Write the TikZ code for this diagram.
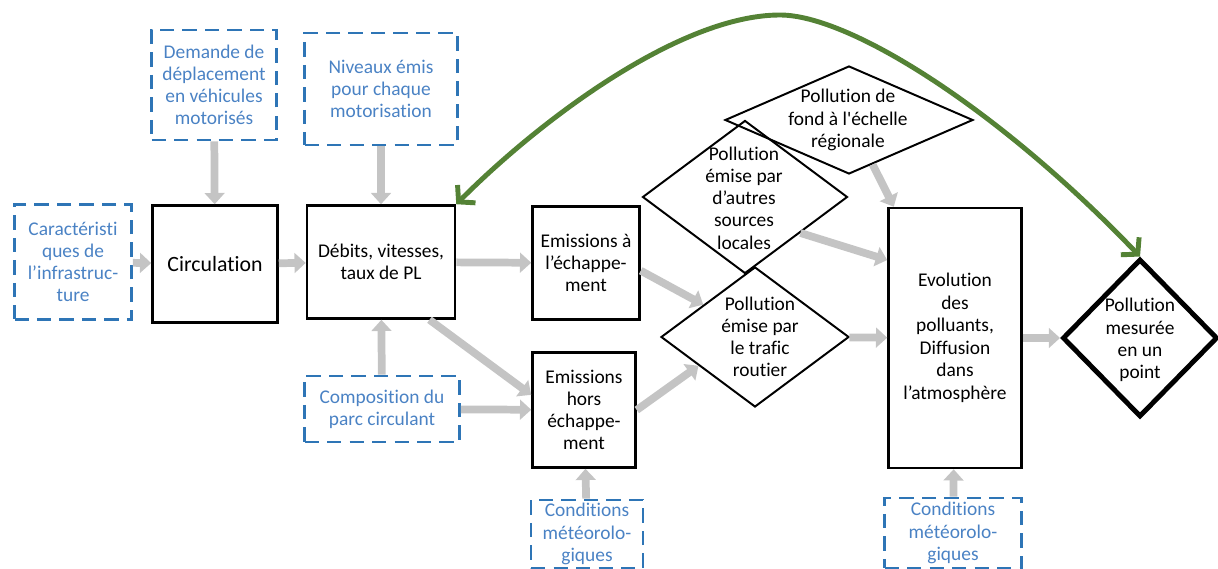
\documentclass[tikz,border=0pt]{standalone}
\usepackage{fontspec}
\setmainfont{Carlito}[Ligatures={NoCommon}]
\usepackage{tikz}
\usetikzlibrary{positioning,arrows.meta,shapes.geometric}
\definecolor{bleu}{RGB}{46,117,182}
\definecolor{bleutxt}{RGB}{74,130,196}
\definecolor{vert}{RGB}{84,130,53}
\definecolor{gris}{RGB}{196,196,196}
\newlength\pxu
\setlength\pxu{0.025cm}

\begin{document}
\begin{tikzpicture}[x=0.025cm, y=-0.025cm,
  every node/.style={align=center, font=\fontsize{13.8}{15.8}\selectfont, inner sep=1pt},
  boite/.style={draw, line width=1.8pt},
  entree/.style={draw=bleu, line width=2pt, dash pattern=on 10pt off 6pt, text=bleutxt},
  losange/.style={diamond, draw, line width=1.4pt},
  fleche/.style={gris, line width=5.5pt, -{Triangle[width=14pt,length=8pt]}}]
\useasboundingbox (0,0) rectangle (1218,569);
% entrees et boites du trafic
\node[entree, minimum width=117\pxu, minimum height=115\pxu] (car) at (73,262) {Caractéristi\\ques de\\l’infrastruc-\\ture};
\node[boite, minimum width=125\pxu, minimum height=117\pxu, font=\fontsize{15.5}{18}\selectfont] (circ) at (215,264) {Circulation};
\node[entree, minimum width=125\pxu, minimum height=110\pxu] (dem) at (214,85) {Demande de\\déplacement\\en véhicules\\motorisés};
\node[entree, minimum width=153\pxu, minimum height=112\pxu] (niv) at (381,89) {Niveaux émis\\pour chaque\\motorisation};
\node[boite, minimum width=148\pxu, minimum height=113\pxu] (deb) at (381,262) {Débits, vitesses,\\taux de PL};
\node[entree, minimum width=155\pxu, minimum height=66\pxu] (comp) at (382,409) {Composition du\\parc circulant};
\node[boite, minimum width=107\pxu, minimum height=113\pxu] (echap) at (586,263) {Emissions à\\l’échappe-\\ment};
\node[boite, minimum width=103\pxu, minimum height=115\pxu] (hors) at (584,410) {Emissions\\hors\\échappe-\\ment};
\node[entree, minimum width=112\pxu, minimum height=68\pxu] (meteo1) at (587,534) {Conditions\\météorolo-\\giques};
% sources de pollution
\node[losange, minimum width=248\pxu, minimum height=108\pxu] (fond) at (849,120) {};
\node[losange, minimum width=205\pxu, minimum height=153\pxu] (autres) at (745,197) {};
\node[losange, minimum width=188\pxu, minimum height=140\pxu] (trafic) at (755,337) {};
\node (fond-t) at (848,120) {Pollution de\\fond à l\textquotesingle échelle\\régionale};
\node (autres-t) at (744,198) {Pollution\\émise par\\d’autres\\sources\\locales};
\node (trafic-t) at (760,337) {Pollution\\émise par\\le trafic\\routier};
\node[boite, minimum width=133\pxu, minimum height=260\pxu, font=\fontsize{13.8}{16}\selectfont] (evol) at (955,338) {Evolution\\des\\polluants,\\Diffusion\\dans\\l’atmosphère};
\node[losange, line width=3.5pt, minimum width=155\pxu, minimum height=158\pxu] (mes) at (1140,338) {};
\node (mes-t) at (1140,340) {Pollution\\mesurée\\en un\\point};
\node[entree, minimum width=137\pxu, minimum height=70\pxu] (meteo2) at (953,533) {Conditions\\météorolo-\\giques};
% fleches grises
\draw[fleche] (car) -- (circ);
\draw[fleche] (dem) -- (circ);
\draw[fleche] (circ) -- (deb);
\draw[fleche] (niv) -- (deb);
\draw[fleche] (comp) -- (deb);
\draw[fleche] (deb) -- (echap);
\draw[fleche] (deb.-50) -- (hors.164);
\draw[fleche] (comp) -- (hors);
\draw[fleche] (meteo1) -- (hors);
\draw[fleche] (echap.-8) -- (trafic.148);
\draw[fleche] (hors.east) -- (trafic.207);
\draw[fleche] (autres.-33) -- (evol.131);
\draw[fleche] (fond.-62) -- (evol.115);
\draw[fleche] (trafic) -- (evol);
\draw[fleche] (evol) -- (mes);
\draw[fleche] (meteo2) -- (evol);
% retour mesure / trafic
\draw[vert, line width=3.5pt, line cap=round, {Straight Barb[length=8pt,width=18pt]}-{Straight Barb[length=8pt,width=18pt]}] (deb.north east) .. controls (540,120) and (680,15) .. (780,15) .. controls (850,15) and (1000,110) .. (mes.north);
\end{tikzpicture}
\end{document}
